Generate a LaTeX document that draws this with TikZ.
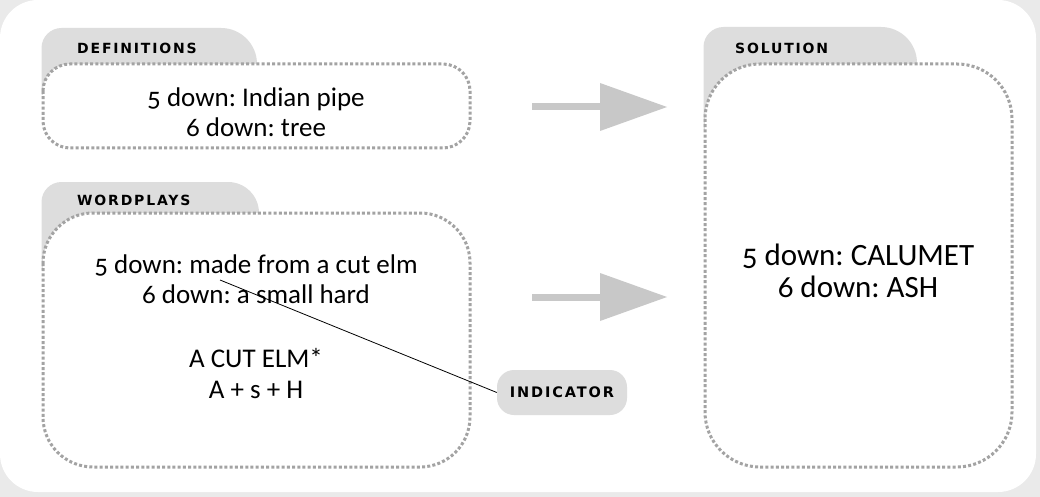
\documentclass[tikz,border=0pt]{standalone}
\usepackage{fontspec}
\setmainfont{Carlito}[Numbers=OldStyle]
\newfontfamily\labfont{DejaVu Sans Bold}[LetterSpace=13]
\frenchspacing
\definecolor{bgc}{HTML}{EAEAEA}
\definecolor{tabc}{HTML}{DDDDDD}
\definecolor{dotc}{HTML}{A3A3A3}
\definecolor{arrc}{HTML}{C8C8C8}
\tikzset{
  dotbox/.style={draw=dotc, fill=white, line width=3pt, dash pattern=on 3pt off 2.2pt},
  lab/.style={inner sep=0pt, anchor=base west, font=\labfont\fontsize{14}{16}\selectfont, text=black},
  txt/.style={inner sep=0pt, anchor=base, font=\fontsize{27}{30}\selectfont},
  bigtxt/.style={inner sep=0pt, anchor=base, font=\fontsize{31}{35}\selectfont},
  indbox/.style={fill=tabc, rounded corners=17pt, minimum width=130pt, minimum height=45pt, inner sep=0pt, font=\labfont\fontsize{14.5}{16}\selectfont},
  arrowshape/.style={fill=arrc}
}
\newcommand\tabshape[5]{% x1, x2, top, bottom, right radius
  \fill[tabc] (#1,#4) -- (#1,#3+20) arc[start angle=180,end angle=270,radius=20]
    -- (#2-#5,#3) arc[start angle=270,end angle=360,radius=#5] -- (#2,#4) -- cycle;}
\newcommand\bigarrow[1]{% y centre
  \fill[arrowshape] (532,#1-3.5) rectangle (601,#1+3.5);
  \fill[arrowshape] (600,#1-24) -- (667,#1) -- (600,#1+24) -- cycle;}
\begin{document}
\begin{tikzpicture}[x=1pt,y=-1pt]
\useasboundingbox (0,0) rectangle (1040,497);
\fill[bgc] (0,0) rectangle (1040,497);
\fill[white, rounded corners=38pt] (0,0) rectangle (1036,492);
% definitions
\tabshape{41.5}{257}{28}{95}{36}
\draw[dotbox, rounded corners=27pt] (43,64) rectangle (470,148);
\node[lab] (deflab) at (77,54) {DEFINITIONS};
\node[txt] (d1) at (256,107) {5 down: Indian pipe};
\node[txt] (d2) at (256,137) {6 down: tree};
% wordplays
\tabshape{41.5}{259}{182}{270}{31}
\draw[dotbox, rounded corners=50pt] (43,213) rectangle (470,467);
\node[lab] (wplab) at (77,205) {WORDPLAYS};
\node[txt] (w1) at (256,273) {5 down: made from a cut elm};
\node[txt] (w2) at (256,303) {6 down: a small hard};
\node[txt] (w3) at (256,367) {A CUT ELM*};
\node[txt] (w4) at (256,398) {A + s + H};
% solution
\tabshape{703.5}{917}{27}{130}{36}
\draw[dotbox, rounded corners=55pt] (705,64) rectangle (1012,467);
\node[lab] (sollab) at (735,54) {SOLUTION};
\node[bigtxt] (s1) at (858,265) {5 down: CALUMET};
\node[bigtxt] (s2) at (858,297) {6 down: ASH};
% arrows
\bigarrow{107}
\bigarrow{297}
% indicator
\node[indbox] (ind) at (562,392.5) {INDICATOR};
\coordinate (madept) at (220,280);
\draw[line width=0.8pt] (madept) -- (ind.west);
\end{tikzpicture}
\end{document}
